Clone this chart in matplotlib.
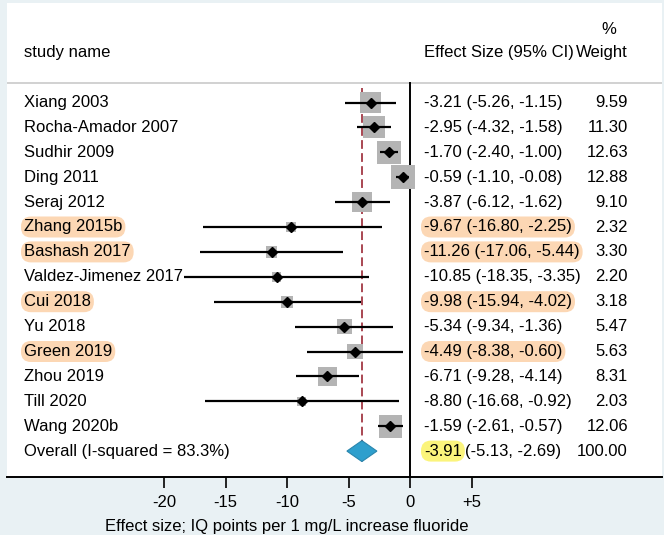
import matplotlib
matplotlib.use("Agg")
import matplotlib.pyplot as plt
from matplotlib.patches import Polygon
from matplotlib.transforms import blended_transform_factory

plt.rcParams['font.family'] = ['Liberation Sans', 'DejaVu Sans']

# Study-level estimates (IQ points per 1 mg/L fluoride)
studies = ['Xiang 2003', 'Rocha-Amador 2007', 'Sudhir 2009', 'Ding 2011', 'Seraj 2012',
           'Zhang 2015b', 'Bashash 2017', 'Valdez-Jimenez 2017', 'Cui 2018', 'Yu 2018',
           'Green 2019', 'Zhou 2019', 'Till 2020', 'Wang 2020b']
effect = [-3.21, -2.95, -1.70, -0.59, -3.87, -9.67, -11.26, -10.85, -9.98, -5.34,
          -4.49, -6.71, -8.80, -1.59]
ci_low = [-5.26, -4.32, -2.40, -1.10, -6.12, -16.80, -17.06, -18.35, -15.94, -9.34,
          -8.38, -9.28, -16.68, -2.61]
ci_high = [-1.15, -1.58, -1.00, -0.08, -1.62, -2.25, -5.44, -3.35, -4.02, -1.36,
           -0.60, -4.14, -0.92, -0.57]
weights = [9.59, 11.30, 12.63, 12.88, 9.10, 2.32, 3.30, 2.20, 3.18, 5.47,
           5.63, 8.31, 2.03, 12.06]
marked = ['Zhang 2015b', 'Bashash 2017', 'Cui 2018', 'Green 2019']

overall_label = 'Overall (I-squared = 83.3%)'
overall = [-3.91, -5.13, -2.69]
overall_weight = 100.00

tick_values = [-20, -15, -10, -5, 0, 5]
tick_labels = ['-20', '-15', '-10', '-5', '0', '+5']

W, H = 664, 535
bg = '#e9f1f4'
peach = '#fcd7b4'
yellow = '#fbf47c'

fig = plt.figure(figsize=(W / 100, H / 100), dpi=100, facecolor=bg)

# plot panel in pixel terms: 0 at x=410, 12.3 px per unit, rows 24.9 px apart
x0, scale = 410, 12.3
left_px, right_px, top_px, bot_px = 7, 662, 3, 477
ax = fig.add_axes([left_px / W, 1 - bot_px / H, (right_px - left_px) / W, (bot_px - top_px) / H])
ax.set_facecolor('white')
ax.set_xlim((left_px - x0) / scale, (right_px - x0) / scale)
row0, step = 102.5, 24.9
ax.set_ylim((bot_px - row0) / step, (top_px - row0) / step)

def row_of(py):
    return (py - row0) / step

for s in ['top', 'left', 'right']:
    ax.spines[s].set_visible(False)
ax.spines['bottom'].set_linewidth(1.4)
ax.set_yticks([])
ax.set_xticks(tick_values)
ax.set_xticklabels(tick_labels, fontsize=12)
ax.tick_params(axis='x', direction='out', length=8, width=1.2, pad=5)

n = len(studies)
rows = list(range(n))
overall_row = n

# header rule, null line and pooled estimate line
ax.axhline(row_of(82.5), color='#c9c9c9', lw=1.2)
ax.plot([0, 0], [row_of(82.5), ax.get_ylim()[0]], color='black', lw=1.4)
ax.plot([overall[0], overall[0]], [row_of(88), row_of(463)], color='#a94652',
        lw=1.4, linestyle=(0, (4.5, 2.2)), zorder=1)

# weighted squares, confidence intervals, point estimates
side_pt = [4.75 * w ** 0.5 for w in weights]
ax.scatter(effect, rows, s=[sp ** 2 for sp in side_pt], marker='s', color='#b4b4b4',
           linewidths=0, zorder=2)
ax.hlines(rows, ci_low, ci_high, color='black', lw=1.6, zorder=3)
ax.plot(effect, rows, linestyle='none', marker='D', markersize=5.3, color='black', zorder=4)

# pooled diamond
half_h = 0.42
diamond = Polygon([(overall[1], overall_row), (overall[0], overall_row - half_h),
                   (overall[2], overall_row), (overall[0], overall_row + half_h)],
                  closed=True, facecolor='#2e9fcd', edgecolor='#2a86ad', lw=0.8, zorder=3)
ax.add_patch(diamond)

# text columns
tr = blended_transform_factory(fig.transFigure, ax.transData)
fs = 12
label_x, es_x, wt_x = 24 / W, 424 / W, 628 / W

ax.text(label_x, row_of(52), 'study name', transform=tr, fontsize=fs, va='center')
ax.text(es_x, row_of(52), 'Effect Size (95% CI)', transform=tr, fontsize=fs, va='center')
ax.text(wt_x, row_of(52), 'Weight', transform=tr, fontsize=fs, va='center', ha='right')
ax.text(609 / W, row_of(29), '%', transform=tr, fontsize=fs, va='center', ha='center')

box = dict(boxstyle='round,pad=0.18,rounding_size=0.6', fc=peach, ec='none')
for r, name, e, lo, hi, w in zip(rows, studies, effect, ci_low, ci_high, weights):
    hl = box if name in marked else None
    ax.text(label_x, r, name, transform=tr, fontsize=fs, va='center', bbox=hl, zorder=5)
    ax.text(es_x, r, f'{e:.2f} ({lo:.2f}, {hi:.2f})', transform=tr, fontsize=fs,
            va='center', bbox=hl, zorder=5)
    ax.text(wt_x, r, f'{w:.2f}', transform=tr, fontsize=fs, va='center', ha='right', zorder=5)

ax.text(label_x, overall_row, overall_label, transform=tr, fontsize=fs, va='center')
t = ax.text(es_x, overall_row, f'{overall[0]:.2f}', transform=tr, fontsize=fs, va='center',
            bbox=dict(boxstyle='round,pad=0.18,rounding_size=0.6', fc=yellow, ec='none'))
fig.canvas.draw()
bb = t.get_window_extent()
ax.text(bb.x1 / W + 3 / W, overall_row, f'({overall[1]:.2f}, {overall[2]:.2f})',
        transform=tr, fontsize=fs, va='center')
ax.text(wt_x, overall_row, f'{overall_weight:.2f}', transform=tr, fontsize=fs,
        va='center', ha='right')

fig.text(287 / W, 1 - 526 / H, 'Effect size; IQ points per 1 mg/L increase fluoride',
         fontsize=fs, ha='center', va='center')

fig.savefig('out.png', dpi=100, facecolor=bg)
